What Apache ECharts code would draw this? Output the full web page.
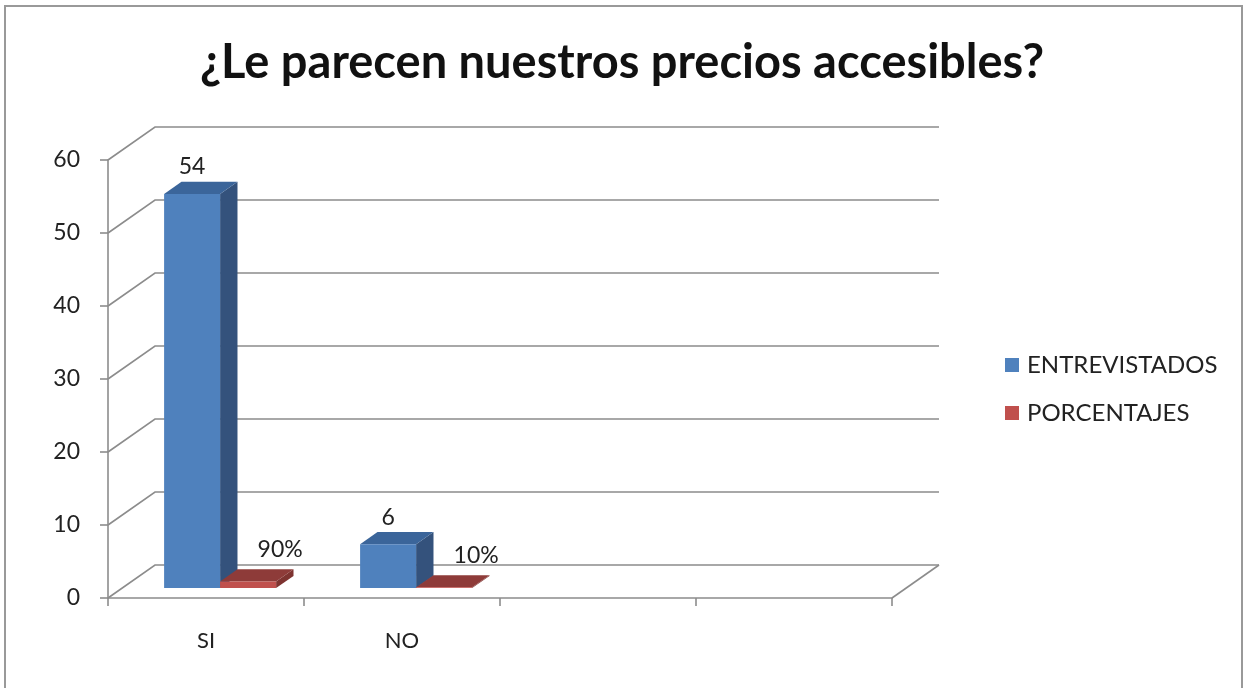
<!DOCTYPE html>
<html>
<head>
<meta charset="utf-8">
<script src="https://cdn.jsdelivr.net/npm/echarts@6/dist/echarts.min.js"></script>
<style>
  html, body { margin: 0; padding: 0; background: #fff; }
  #chart { width: 1244px; height: 688px; }
</style>
</head>
<body>
<div id="chart"></div>
<script>
// Survey data
const categories = ['SI', 'NO', '', ''];
const entrevistados = [54, 6];
const porcentajes = [0.9, 0.1];
const yTicks = [0, 10, 20, 30, 40, 50, 60];
const seriesNames = ['ENTREVISTADOS', 'PORCENTAJES'];

// Oblique 3D projection: full depth of the box
const DX = 47, DY = -33;
const BAR_F0 = 0.30, BAR_F1 = 0.67;   // depth span of the columns
const BAR_FRAC = 112 / 196;           // cluster width inside one category band

const palettes = [
  { front: '#4F81BD', side: '#34527C', top: '#3B659A' },
  { front: '#C0504D', side: '#7E3330', top: '#8E3B39' }
];

const FONT = 'Lato, "Open Sans", sans-serif';

function barRender(seriesIdx) {
  return function (params, api) {
    const cat = api.value(0);
    const val = api.value(1);
    const base = api.coord([cat, 0]);
    const topP = api.coord([cat, val]);
    const band = api.size([1, 0])[0];
    const barW = band * BAR_FRAC / 2;
    const ox = BAR_F0 * DX, oy = BAR_F0 * DY;
    const dx = (BAR_F1 - BAR_F0) * DX, dy = (BAR_F1 - BAR_F0) * DY;
    const x0 = base[0] - barW + seriesIdx * barW + ox;
    const x1 = x0 + barW;
    const yb = base[1] + oy;
    const yt = topP[1] + oy;
    const pal = palettes[seriesIdx];
    const label = seriesIdx === 1 ? Math.round(val * 100) + '%' : String(val);
    const lx = seriesIdx === 1 ? (x0 + x1) / 2 + 32 : (x0 + x1) / 2;
    const ly = yt + dy - (seriesIdx === 1 ? 20 : 15);
    return {
      type: 'group',
      children: [
        { type: 'polygon', shape: { points: [[x1, yb], [x1 + dx, yb + dy], [x1 + dx, yt + dy], [x1, yt]] },
          style: { fill: pal.side } },
        { type: 'polygon', shape: { points: [[x0, yt], [x1, yt], [x1 + dx, yt + dy], [x0 + dx, yt + dy]] },
          style: { fill: pal.top } },
        { type: 'rect', shape: { x: x0, y: yt, width: barW, height: yb - yt },
          style: { fill: pal.front } },
        { type: 'text', x: lx, y: ly,
          style: { text: label, fill: '#222', font: '23px ' + FONT, align: 'center', verticalAlign: 'middle' } }
      ]
    };
  };
}

function gridRender(params, api) {
  const v = api.value(0);
  const cs = params.coordSys;
  const p = api.coord([0, v]);
  const xl = cs.x, xr = cs.x + cs.width, y = p[1];
  const style = { stroke: '#8C8C8C', lineWidth: 1.6, fill: null };
  const children = [
    { type: 'polyline', shape: { points: [[xl, y], [xl + DX, y + DY], [xr + DX, y + DY]] }, style: style }
  ];
  if (v === 0) {
    children.push({ type: 'line', shape: { x1: xr, y1: y, x2: xr + DX, y2: y + DY }, style: style });
  }
  return { type: 'group', children: children };
}

const chart = echarts.init(document.getElementById('chart'), null, { renderer: 'canvas' });

chart.setOption({
  backgroundColor: '#fff',
  animation: false,
  title: {
    text: '¿Le parecen nuestros precios accesibles?',
    left: 'center',
    top: 34,
    textStyle: { fontFamily: FONT, fontWeight: 'bold', fontSize: 47, color: '#111' }
  },
  legend: {
    orient: 'vertical',
    left: 1000,
    top: 348,
    itemWidth: 14,
    itemHeight: 14,
    itemGap: 24,
    icon: 'rect',
    data: seriesNames,
    textStyle: { fontFamily: FONT, fontSize: 24, color: '#222', padding: [0, 0, 0, 3] }
  },
  graphic: [
    { type: 'rect', shape: { x: 5, y: 6, width: 1237, height: 700 },
      style: { fill: null, stroke: '#999', lineWidth: 2 }, silent: true, z: -1 }
  ],
  grid: { left: 108, right: 352, top: 160, bottom: 90 },
  xAxis: {
    type: 'category',
    data: categories,
    boundaryGap: true,
    axisLine: { lineStyle: { color: '#8C8C8C', width: 1.6 } },
    axisTick: { show: true, length: 8, lineStyle: { color: '#8C8C8C', width: 1.6 } },
    axisLabel: { margin: 32, fontFamily: FONT, fontSize: 22, color: '#222' },
    splitLine: { show: false }
  },
  yAxis: {
    type: 'value',
    min: 0, max: 60, interval: 10,
    axisLine: { show: true, lineStyle: { color: '#8C8C8C', width: 1.6 } },
    axisTick: { show: true, length: 8, lineStyle: { color: '#8C8C8C', width: 1.6 } },
    axisLabel: { margin: 28, fontFamily: FONT, fontSize: 23, color: '#222' },
    splitLine: { show: false }
  },
  series: [
    {
      type: 'custom', name: 'grid', silent: true, z: 1,
      renderItem: gridRender,
      data: yTicks.map(v => [v])
    },
    {
      type: 'custom', name: seriesNames[0], z: 3,
      itemStyle: { color: palettes[0].front },
      renderItem: barRender(0),
      encode: { x: 0, y: 1 },
      data: entrevistados.map((v, i) => [i, v])
    },
    {
      type: 'custom', name: seriesNames[1], z: 4,
      itemStyle: { color: palettes[1].front },
      renderItem: barRender(1),
      encode: { x: 0, y: 1 },
      data: porcentajes.map((v, i) => [i, v])
    }
  ]
});
</script>
</body>
</html>
